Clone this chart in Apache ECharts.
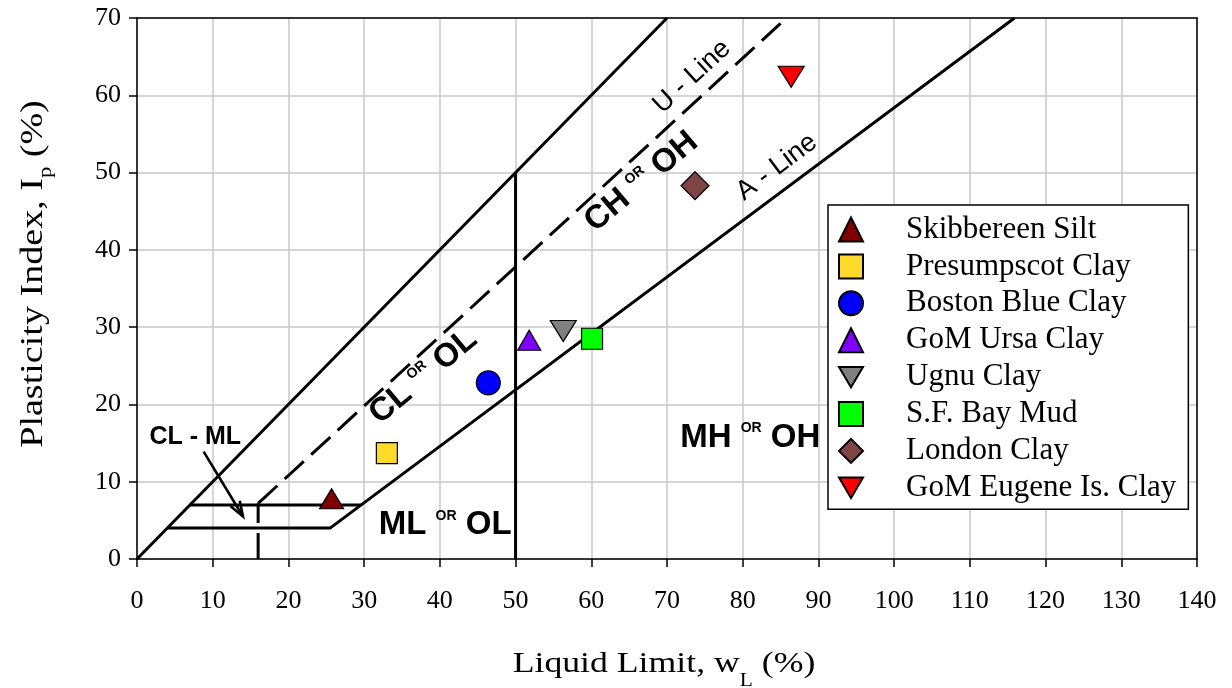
<!DOCTYPE html>
<html>
<head>
<meta charset="utf-8">
<script src="https://cdn.jsdelivr.net/npm/echarts@6/dist/echarts.min.js"></script>
<style>
  html, body { margin: 0; padding: 0; background: #fff; }
  #chart { width: 1232px; height: 688px; }
</style>
</head>
<body>
<div id="chart"></div>
<script>
// ---- Soil samples: liquid limit w_L (%) and plasticity index I_p (%) ----
const soilNames = [
  'Skibbereen Silt', 'Presumpscot Clay', 'Boston Blue Clay', 'GoM Ursa Clay',
  'Ugnu Clay', 'S.F. Bay Mud', 'London Clay', 'GoM Eugene Is. Clay'
];
const liquidLimit     = [25.7, 33.0, 46.4, 51.8, 56.3, 60.1, 73.7, 86.4];
const plasticityIndex = [ 7.8, 13.7, 22.8, 28.3, 29.5, 28.5, 48.3, 62.4];

// ---- Casagrande chart boundaries, as [w_L, I_p] vertices ----
const upperLimitLine = [[0, 0], [70, 70]];
const uLine          = [[16, 7.2], [85, 69.3]];
const uLineFoot      = [[16, 0], [16, 7.2]];
const aLine          = [[4, 4], [25.5, 4], [115.9, 70]];
const clMlTopEdge    = [[7, 7], [29.6, 7]];
const liquidLimit50  = [[50, 0], [50, 50]];
const clMlArrow      = [[8.8, 13.9, 14.0, 5.5]];

// ---- Axis ticks ----
const xTickValues = [0, 10, 20, 30, 40, 50, 60, 70, 80, 90, 100, 110, 120, 130, 140];
const yTickValues = [0, 10, 20, 30, 40, 50, 60, 70];

// ---- Marker styling per sample ----
const invTriangle = 'path://M0,0L20,0L10,17Z';
const markerSymbols = ['triangle', 'rect', 'circle', 'triangle', invTriangle, 'rect', 'diamond', invTriangle];
const markerSizes   = [[24, 20], 21, 24, [23, 20], [26, 21], 21, 28, [26, 21]];
const markerColors  = ['#800000', '#FFDA2B', '#0000FF', '#8000FF', '#808080', '#00FF00', '#7F4545', '#FF0000'];

const SERIF = '"Liberation Serif", "Times New Roman", serif';
const SANS = '"Liberation Sans", Arial, sans-serif';

// Zone and line annotations: [w_L, I_p] anchor, rotation, rich text
const plainText = { color: '#000', textBorderWidth: 0, textShadowBlur: 0, opacity: 1 };
const annotationRich = {
  b: Object.assign({ fontFamily: SANS, fontWeight: 'bold', fontSize: 33, lineHeight: 37, verticalAlign: 'top' }, plainText),
  s: Object.assign({ fontFamily: SANS, fontWeight: 'bold', fontSize: 14, lineHeight: 31, verticalAlign: 'top' }, plainText),
  c: Object.assign({ fontFamily: SANS, fontWeight: 'bold', fontSize: 25 }, plainText),
  n: Object.assign({ fontFamily: SANS, fontWeight: 'normal', fontSize: 27 }, plainText)
};
const annotations = [
  { pos: [38.0, 23.4], rotate: 40, text: '{b|CL} {s|OR} {b|OL}' },
  { pos: [66.8, 48.6], rotate: 40, text: '{b|CH} {s|OR} {b|OH}' },
  { pos: [40.7, 4.1],  rotate: 0,  text: '{b|ML} {s|OR} {b|OL}' },
  { pos: [81.0, 15.4], rotate: 0,  text: '{b|MH} {s|OR} {b|OH}' },
  { pos: [7.7, 15.8],  rotate: 0,  text: '{c|CL - ML}' },
  { pos: [73.3, 62.4], rotate: 42.6, text: '{n|U - Line}' },
  { pos: [84.5, 50.7], rotate: 37, text: '{n|A - Line}' }
];

function boundary(data, dashed) {
  return {
    type: 'line', data: data, symbol: 'none', showSymbol: false, silent: true,
    animation: false, z: 3,
    lineStyle: { color: '#000', width: 3, type: dashed ? [26, 10] : 'solid' }
  };
}

const chart = echarts.init(document.getElementById('chart'));

const sampleSeries = soilNames.map((name, i) => ({
  name: name,
  type: 'scatter',
  data: [[liquidLimit[i], plasticityIndex[i]]],
  symbol: markerSymbols[i],
  symbolSize: markerSizes[i],
  z: 6,
  itemStyle: { color: markerColors[i], borderColor: '#000', borderWidth: 1.2, opacity: 1 }
}));

// Axis titles with subscripts, widened slightly along the reading direction
const axisTitleRich = (size, subPad) => ({
  t: { fontFamily: SERIF, fontSize: size, fill: '#000', lineHeight: size + 4, verticalAlign: 'top' },
  sub: { fontFamily: SERIF, fontSize: Math.round(size * 0.6), fill: '#000', lineHeight: 20, verticalAlign: 'top', padding: [subPad, 0, 0, 0] }
});

// Frame axes drawn along the top and right edges of the plot
const frameAxis = {
  axisLine: { show: true, onZero: false, lineStyle: { color: '#000', width: 1.5 } },
  axisTick: { show: false }, axisLabel: { show: false }, splitLine: { show: false }
};

const option = {
  animation: false,
  backgroundColor: '#fff',
  grid: {
    left: 137, right: 35, top: 18, bottom: 129,
    containLabel: false, outerBoundsMode: 'none'
  },
  graphic: [
    {
      type: 'text', x: 664, y: 666, scaleX: 1.19,
      style: {
        text: '{t|Liquid Limit, w}{sub|L}{t| (%)}',
        align: 'center', verticalAlign: 'middle', textAlign: 'center', textVerticalAlign: 'middle',
        fontFamily: SERIF, fontSize: 30, fill: '#000',
        rich: axisTitleRich(30, 23)
      }
    },
    {
      type: 'text', x: 36, y: 274, rotation: Math.PI / 2, scaleX: 1.19,
      style: {
        text: '{t|Plasticity Index, I}{sub|p}{t| (%)}',
        align: 'center', verticalAlign: 'middle', textAlign: 'center', textVerticalAlign: 'middle',
        fontFamily: SERIF, fontSize: 32, fill: '#000',
        rich: axisTitleRich(32, 19)
      }
    }
  ],
  xAxis: [{
    type: 'value',
    min: xTickValues[0], max: xTickValues[xTickValues.length - 1], interval: 10,
    axisLine: { show: true, onZero: false, lineStyle: { color: '#000', width: 1.5 } },
    axisTick: { show: true, inside: false, length: 8, lineStyle: { color: '#000', width: 1.5 } },
    axisLabel: { fontFamily: SERIF, fontSize: 26, color: '#000', margin: 29 },
    splitLine: { show: true, lineStyle: { color: '#c8c8c8', width: 1.5 } },
    z: 2
  }, Object.assign({
    type: 'value', position: 'top',
    min: xTickValues[0], max: xTickValues[xTickValues.length - 1], interval: 10, z: 2
  }, frameAxis)],
  yAxis: [{
    type: 'value',
    min: yTickValues[0], max: yTickValues[yTickValues.length - 1], interval: 10,
    axisLine: { show: true, onZero: false, lineStyle: { color: '#000', width: 1.5 } },
    axisTick: { show: true, inside: false, length: 8, lineStyle: { color: '#000', width: 1.5 } },
    axisLabel: { fontFamily: SERIF, fontSize: 26, color: '#000', margin: 16 },
    splitLine: { show: true, lineStyle: { color: '#c8c8c8', width: 1.5 } },
    z: 2
  }, Object.assign({
    type: 'value', position: 'right',
    min: yTickValues[0], max: yTickValues[yTickValues.length - 1], interval: 10, z: 2
  }, frameAxis)],
  legend: {
    data: soilNames,
    orient: 'vertical',
    left: 828, top: 205,
    padding: [9, 12, 6, 10],
    itemWidth: 24, itemHeight: 24, itemGap: 5.9,
    selectedMode: false,
    backgroundColor: '#fff',
    borderColor: '#000', borderWidth: 1.5,
    textStyle: { fontFamily: SERIF, fontSize: 31, color: '#000', padding: [0, 0, 0, 38] }
  },
  series: [
    boundary(upperLimitLine, false),
    boundary(uLine, true),
    boundary(uLineFoot, true),
    boundary(aLine, false),
    boundary(clMlTopEdge, false),
    boundary(liquidLimit50, false),
    {
      type: 'custom',
      silent: true,
      z: 4,
      data: clMlArrow,
      encode: { x: [0, 2], y: [1, 3] },
      renderItem: function (params, api) {
        const p0 = api.coord([api.value(0), api.value(1)]);
        const p1 = api.coord([api.value(2), api.value(3)]);
        const ang = Math.atan2(p1[1] - p0[1], p1[0] - p0[0]);
        const len = 16, spread = 0.34;
        const w1 = [p1[0] - len * Math.cos(ang - spread), p1[1] - len * Math.sin(ang - spread)];
        const w2 = [p1[0] - len * Math.cos(ang + spread), p1[1] - len * Math.sin(ang + spread)];
        return {
          type: 'group',
          children: [
            { type: 'line', shape: { x1: p0[0], y1: p0[1], x2: p1[0], y2: p1[1] }, style: { stroke: '#000', lineWidth: 2.6 } },
            { type: 'polyline', shape: { points: [w1, p1, w2] }, style: { stroke: '#000', lineWidth: 2.6, fill: null } }
          ]
        };
      }
    },
    {
      type: 'scatter',
      silent: true,
      z: 5,
      symbolSize: 0,
      data: annotations.map(a => ({
        value: a.pos,
        label: Object.assign({
          show: true, position: [0, 0], rotate: a.rotate,
          formatter: a.text, align: 'center', verticalAlign: 'middle',
          fontFamily: SANS, fontWeight: 'bold', fontSize: 33,
          rich: annotationRich
        }, plainText)
      })),
      itemStyle: { color: '#000', opacity: 1 }
    }
  ].concat(sampleSeries)
};

chart.setOption(option);
</script>
</body>
</html>
